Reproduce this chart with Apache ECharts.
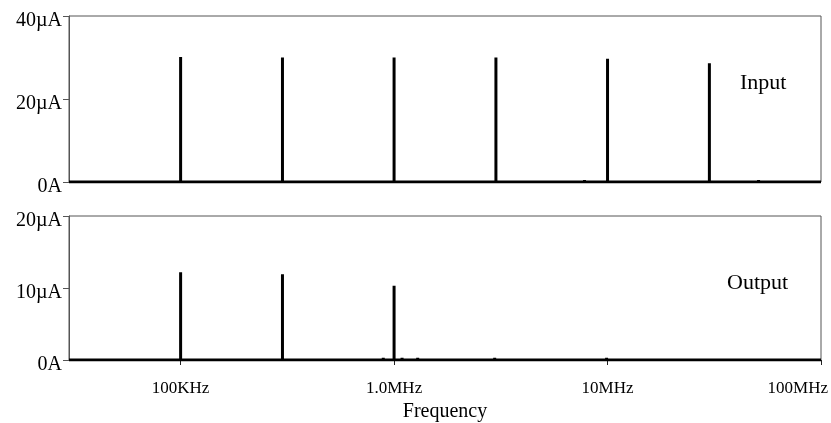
<!DOCTYPE html>
<html><head><meta charset="utf-8">
<script src="https://cdn.jsdelivr.net/npm/echarts@6/dist/echarts.min.js"></script>
<style>html,body{margin:0;padding:0;background:#fff}#c{width:831px;height:423px}</style>
</head><body><div id="c"></div>
<script>
// Frequency range (Hz)
const freqMin = 30000;
const freqMax = 1e8;
// Input spectrum: spike frequencies (Hz) and amplitudes (µA)
const inputFreqs = [1e5, 3e5, 1e6, 3e6, 7.8e6, 1e7, 3e7, 5.1e7];
const inputAmps  = [30.1, 30.0, 30.0, 30.0, 0.5, 29.7, 28.6, 0.5];
// Output spectrum
const outputFreqs = [1e5, 3e5, 8.9e5, 1e6, 1.09e6, 1.29e6, 2.96e6, 9.9e6];
const outputAmps  = [12.2, 11.9, 0.3, 10.3, 0.3, 0.3, 0.3, 0.3];
// Axis tick labels
const topYTicks = ['0A', '20µA', '40µA'];
const botYTicks = ['0A', '10µA', '20µA'];
const xTickLabels = {1e5: '100KHz', 1e6: '1.0MHz', 1e7: '10MHz', 1e8: '100MHz'};

function spikes(freqs, amps) {
  const d = [[freqMin, 0]];
  freqs.forEach((f, i) => { d.push([f, 0], [f, amps[i]], [f, 0]); });
  d.push([freqMax, 0]);
  return d;
}
const font = 'Liberation Serif';
function yLabel(ticks, step) {
  return v => { const i = Math.round(v / step); return ticks[i] !== undefined ? ticks[i] : ''; };
}
function xFmt(v) {
  for (const k in xTickLabels) {
    if (Math.abs(v / Number(k) - 1) < 1e-6) {
      return Number(k) === freqMax ? '{r|' + xTickLabels[k] + '}' : xTickLabels[k];
    }
  }
  return '';
}
const chart = echarts.init(document.getElementById('c'), null, {renderer: 'canvas'});
const axisGray = '#555';
const yLabelStyle = {fontFamily: font, fontSize: 20, color: '#000', margin: 7, verticalAlign: 'top', lineHeight: 9};
chart.setOption({
  animation: false,
  grid: [
    {left: 69, right: 10, top: 16, height: 166, show: true, borderColor: axisGray, borderWidth: 1, outerBoundsMode: 'none', containLabel: false},
    {left: 69, right: 10, top: 216, height: 144, show: true, borderColor: axisGray, borderWidth: 1, outerBoundsMode: 'none', containLabel: false}
  ],
  xAxis: [
    {gridIndex: 0, type: 'log', logBase: 10, min: freqMin, max: freqMax,
     axisLine: {show: false}, axisTick: {show: false}, axisLabel: {show: false}, splitLine: {show: false}},
    {gridIndex: 1, type: 'log', logBase: 10, min: freqMin, max: freqMax,
     axisLine: {show: true, lineStyle: {color: '#222', width: 1}},
     axisTick: {show: true, inside: false, length: 5, lineStyle: {color: '#222'}},
     axisLabel: {formatter: xFmt, fontFamily: font, fontSize: 17, color: '#000', margin: 20,
                 showMinLabel: false, alignMaxLabel: 'right',
                 rich: {r: {fontFamily: font, fontSize: 17, color: '#000', padding: [0, -7, 0, 0]}}},
     splitLine: {show: false},
     name: 'Frequency', nameLocation: 'middle', nameGap: 42,
     nameTextStyle: {fontFamily: font, fontSize: 20, color: '#000'}}
  ],
  yAxis: [
    {gridIndex: 0, type: 'value', min: 0, max: 40, interval: 20,
     axisLine: {show: true, lineStyle: {color: axisGray}},
     axisTick: {show: true, length: 6, lineStyle: {color: axisGray}},
     axisLabel: Object.assign({formatter: yLabel(topYTicks, 20)}, yLabelStyle),
     splitLine: {show: false}},
    {gridIndex: 1, type: 'value', min: 0, max: 20, interval: 10,
     axisLine: {show: true, lineStyle: {color: axisGray}},
     axisTick: {show: true, length: 6, lineStyle: {color: axisGray}},
     axisLabel: Object.assign({formatter: yLabel(botYTicks, 10)}, yLabelStyle),
     splitLine: {show: false}}
  ],
  series: [
    {type: 'line', xAxisIndex: 0, yAxisIndex: 0, data: spikes(inputFreqs, inputAmps),
     showSymbol: false, symbol: 'none', lineStyle: {color: '#000', width: 3}, clip: true},
    {type: 'line', xAxisIndex: 1, yAxisIndex: 1, data: spikes(outputFreqs, outputAmps),
     showSymbol: false, symbol: 'none', lineStyle: {color: '#000', width: 3}, clip: true}
  ],
  graphic: [
    {type: 'text', left: 740, top: 72, style: {text: 'Input', font: '22px "Liberation Serif"', fill: '#000'}},
    {type: 'text', left: 727, top: 272, style: {text: 'Output', font: '22px "Liberation Serif"', fill: '#000'}}
  ]
});
</script></body></html>
